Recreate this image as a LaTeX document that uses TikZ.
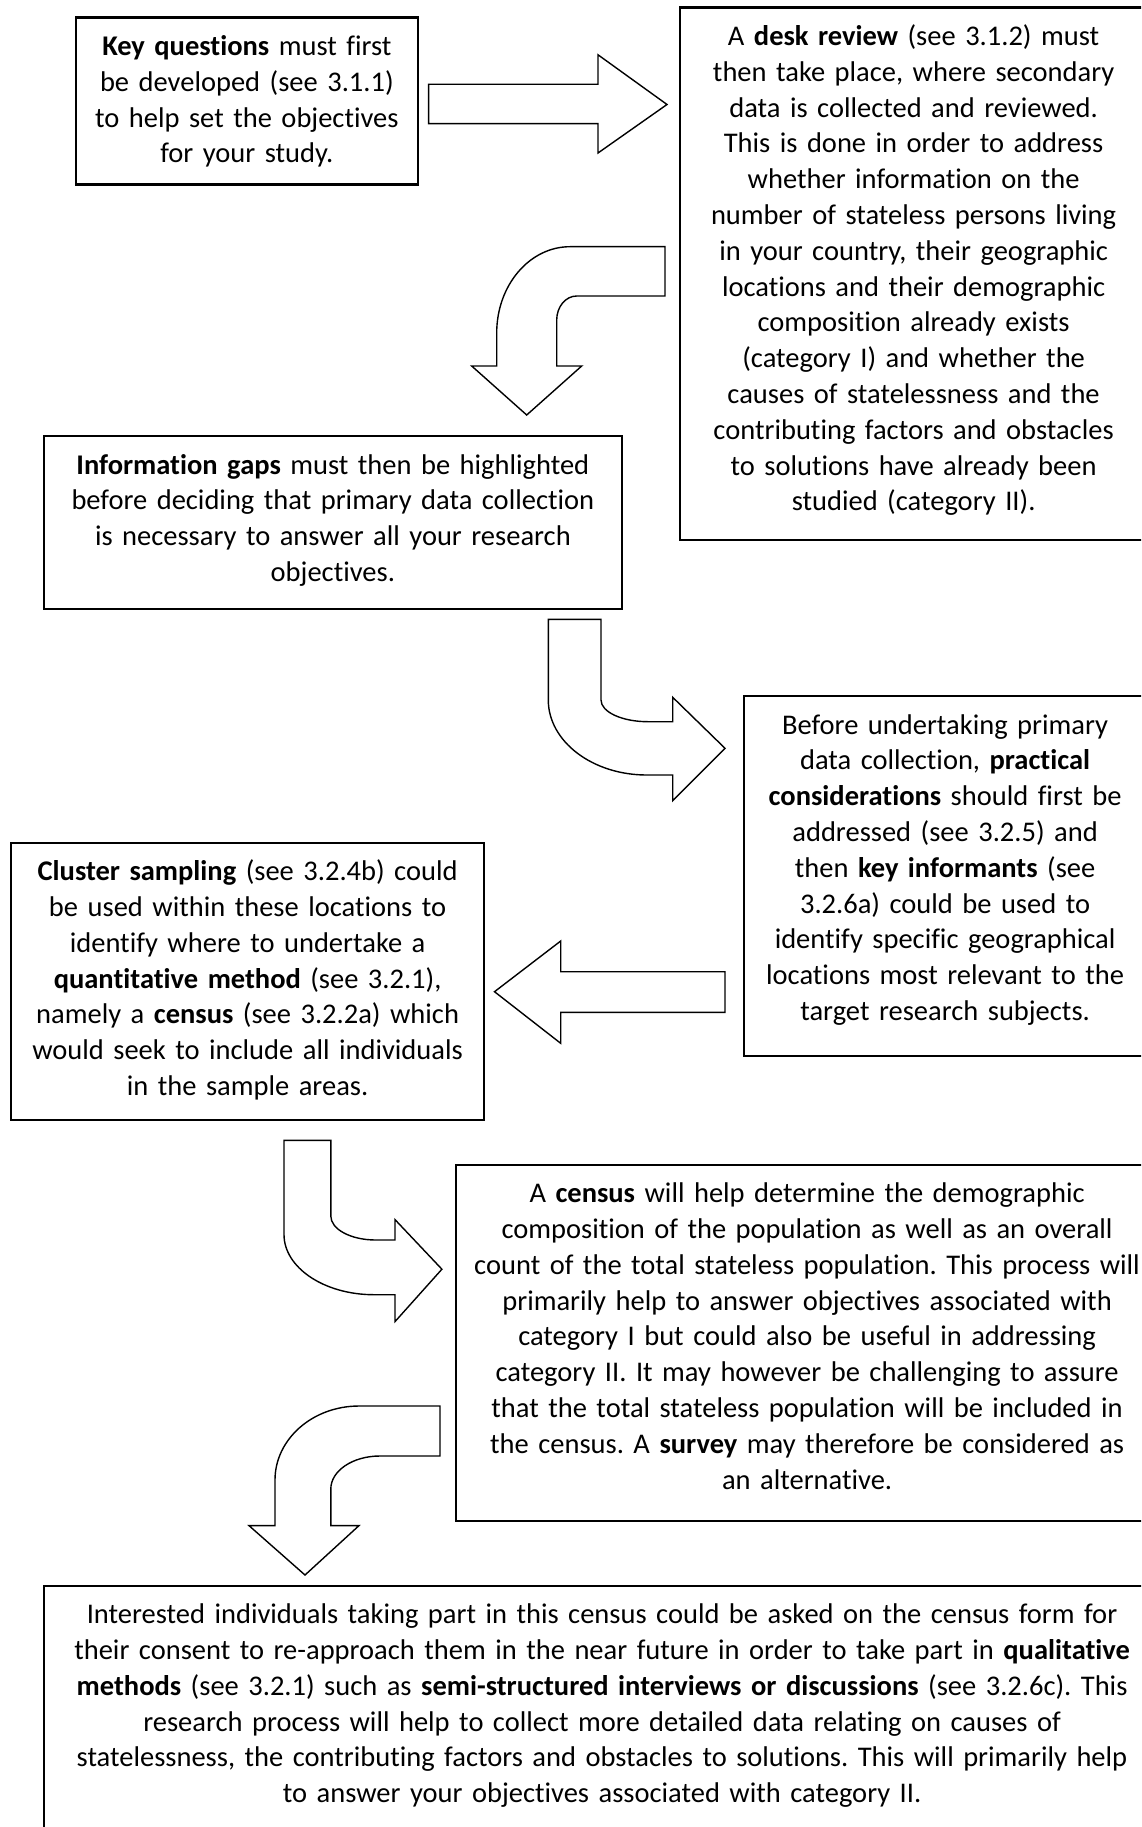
\documentclass[tikz,border=0pt]{standalone}
\usepackage{fontspec}
\setmainfont{Carlito}[Ligatures=NoCommon]
\frenchspacing

\begin{document}
\begin{tikzpicture}[x=1pt, y=-1pt]
    % Khung trang theo pixel của hình gốc
    \useasboundingbox (0,0) rectangle (1141,1827);
    \clip (0,0) rectangle (1141,1827);

    % Kiểu hộp chữ và mũi tên khối
    \tikzset{
        c_box/.style={draw=black, line width=2.2pt, inner sep=0pt, align=center,
            anchor=north west, text height=38pt, font=\fontsize{28.5}{35.8}\selectfont},
        c_arrow/.style={draw=black, line width=1.4pt, fill=white, line join=miter}
    }

    % Các hộp chữ
    \node[c_box, text width=342.5pt, text depth=129pt] (qbox) at (74.5,16.5)
        {\textbf{Key questions} must first\\ be developed (see 3.1.1)\\ to help set the objectives\\ for your study.};
    \node[c_box, text width=468pt, text depth=494.5pt] (desk) at (678.5,6.5)
        {A \textbf{desk review} (see 3.1.2) must\\ then take place, where secondary\\ data is collected and reviewed.\\ This is done in order to address\\ whether information on the\\ number of stateless persons living\\ in your country, their geographic\\ locations and their demographic\\ composition already exists\\ (category I) and whether the\\ causes of statelessness and the\\ contributing factors and obstacles\\ to solutions have already been\\ studied (category II).};
    \node[c_box, text width=577.5pt, text depth=135pt] (gaps) at (43,435)
        {\textbf{Information gaps} must then be highlighted\\ before deciding that primary data collection\\ is necessary to answer all your research\\ objectives.};
    \node[c_box, text width=403pt, text depth=322pt] (practical) at (742.5,695)
        {Before undertaking primary\\ data collection, \textbf{practical}\\ \textbf{considerations} should first be\\ addressed (see 3.2.5) and\\ then \textbf{key informants} (see\\ 3.2.6a) could be used to\\ identify specific geographical\\ locations most relevant to the\\ target research subjects.};
    \node[c_box, text width=473pt, text depth=239.5pt] (cluster) at (10,841.5)
        {\textbf{Cluster sampling} (see 3.2.4b) could\\ be used within these locations to\\ identify where to undertake a\\ \textbf{quantitative method} (see 3.2.1),\\ namely a \textbf{census} (see 3.2.2a) which\\ would seek to include all individuals\\ in the sample areas.};
    \node[c_box, text width=702pt, text depth=318pt] (census) at (455,1163.5)
        {A \textbf{census} will help determine the demographic\\ composition of the population as well as an overall\\ count of the total stateless population. This process will\\ primarily help to answer objectives associated with\\ category I but could also be useful in addressing\\ category II. It may however be challenging to assure\\ that the total stateless population will be included in\\ the census. A \textbf{survey} may therefore be considered as\\ an alternative.};
    \node[c_box, text width=1116pt, text depth=300pt] (final) at (43,1584.5)
        {Interested individuals taking part in this census could be asked on the census form for\\ their consent to re-approach them in the near future in order to take part in \textbf{qualitative}\\ \textbf{methods} (see 3.2.1) such as \textbf{semi-structured interviews or discussions} (see 3.2.6c). This\\ research process will help to collect more detailed data relating on causes of\\ statelessness, the contributing factors and obstacles to solutions. This will primarily help\\ to answer your objectives associated with category II.};

    % Điểm đầu của các mũi tên
    \coordinate (a1) at (428.6,84.3);
    \coordinate (a2) at (665,246.7);
    \coordinate (a3) at (548.3,619.3);
    \coordinate (a4) at (725,971.7);
    \coordinate (a5) at (284,1140.3);
    \coordinate (a6) at (440,1406);

    % Mũi tên thẳng sang phải
    \draw[c_arrow] (a1) -- (598,84.3) -- (598,54.8) -- (667,104.5) -- (598,153)
        -- (598,123.6) -- (428.6,123.6) -- cycle;

    % Mũi tên cong xuống
    \draw[c_arrow] (a2) -- (570,246.7) .. controls (529.5,246.7) and (496.7,285.3) .. (496.7,333)
        -- (496.7,366) -- (471.7,366) -- (526.7,415) -- (581.7,366) -- (556.7,366) -- (556.7,320)
        .. controls (556.7,306.7) and (565.7,296) .. (576.7,296) -- (665,296) -- cycle;

    % Mũi tên cong sang phải
    \draw[c_arrow] (a3) -- (548.3,700) .. controls (548.3,741.4) and (592.4,775) .. (646.7,775)
        -- (672.7,775) -- (672.7,800.7) -- (725,748.3) -- (672.7,697.3) -- (672.7,721.7) -- (648,721.7)
        .. controls (622,721.7) and (601,712) .. (601,700) -- (601,619.3) -- cycle;

    % Mũi tên thẳng sang trái
    \draw[c_arrow] (a4) -- (560.7,971.7) -- (560.7,941) -- (494.5,991.7) -- (560.7,1043.3)
        -- (560.7,1012.3) -- (725,1012.3) -- cycle;

    % Mũi tên cong sang phải (lần hai)
    \draw[c_arrow] (a5) -- (284,1234.5) .. controls (284,1267.7) and (324.3,1294.7) .. (374,1294.7)
        -- (395,1294.7) -- (395,1321.6) -- (441.9,1269.2) -- (395,1219.6) -- (395,1240) -- (375.8,1240)
        .. controls (350.9,1240) and (330.8,1229.3) .. (330.8,1216) -- (330.8,1140.3) -- cycle;

    % Mũi tên cong xuống (lần hai)
    \draw[c_arrow] (a6) -- (359,1406) .. controls (312.6,1406) and (275,1439.1) .. (275,1480)
        -- (275,1525.6) -- (249,1525.6) -- (305,1575) -- (359,1525.6) -- (330.8,1525.6) -- (330.8,1489)
        .. controls (330.8,1470.8) and (352.7,1456) .. (379.8,1456) -- (440,1456) -- cycle;
\end{tikzpicture}
\end{document}
